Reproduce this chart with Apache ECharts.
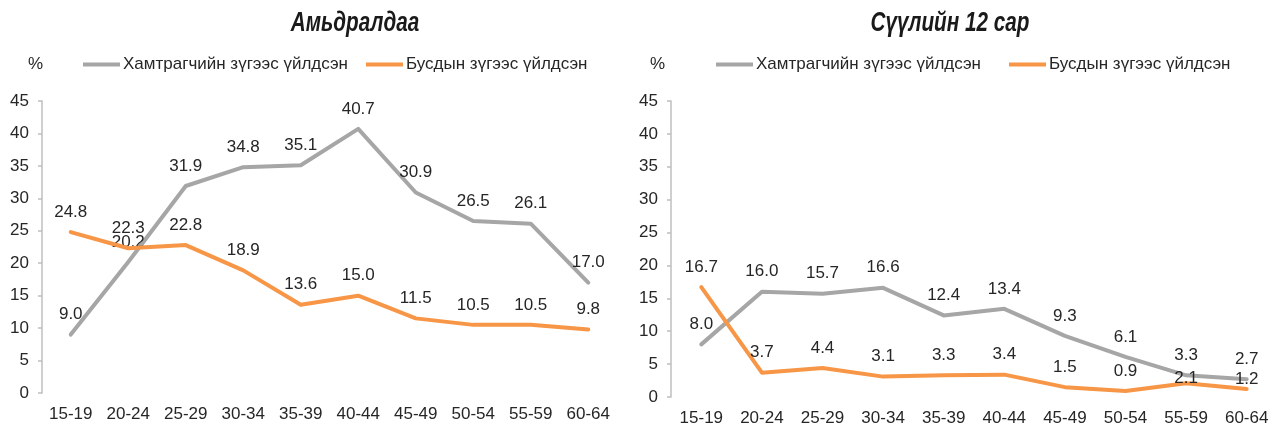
<!DOCTYPE html>
<html>
<head>
<meta charset="utf-8">
<script src="https://cdn.jsdelivr.net/npm/echarts@6/dist/echarts.min.js"></script>
<style>
  html, body { margin: 0; padding: 0; background: #ffffff; }
  #chart { width: 1279px; height: 427px; }
</style>
</head>
<body>
<div id="chart"></div>
<script>
// Age groups shared by both panels
const ageGroups = ['15-19', '20-24', '25-29', '30-34', '35-39', '40-44', '45-49', '50-54', '55-59', '60-64'];

// Panel titles and series names
const panelTitles = ['Амьдралдаа', 'Сүүлийн 12 сар'];
const seriesNames = ['Хамтрагчийн зүгээс үйлдсэн', 'Бусдын зүгээс үйлдсэн'];

// Lifetime, %
const lifetimePartner = [9.0, 20.2, 31.9, 34.8, 35.1, 40.7, 30.9, 26.5, 26.1, 17.0];
const lifetimeOther   = [24.8, 22.3, 22.8, 18.9, 13.6, 15.0, 11.5, 10.5, 10.5, 9.8];

// Last 12 months, %
const recentPartner = [8.0, 16.0, 15.7, 16.6, 12.4, 13.4, 9.3, 6.1, 3.3, 2.7];
const recentOther   = [16.7, 3.7, 4.4, 3.1, 3.3, 3.4, 1.5, 0.9, 2.1, 1.2];

// Y axis ticks
const yMin = 0, yMax = 45, yStep = 5;

const GREY = '#A6A6A6';
const ORANGE = '#F79646';
const TEXT = '#262626';
const FONT = '"Liberation Sans", Arial, sans-serif';
const FS = 17;

const chart = echarts.init(document.getElementById('chart'), null, { renderer: 'canvas' });

const grids = [
  { left: 42, width: 575, top: 101, height: 292 },
  { left: 671, width: 606, top: 101, height: 297 }
];

function xAxisFor(i) {
  return {
    type: 'category', gridIndex: i, data: ageGroups, boundaryGap: true,
    axisLine: { show: false }, axisTick: { show: false },
    axisLabel: { color: TEXT, fontSize: FS, fontFamily: FONT, margin: 13, interval: 0 }
  };
}
function yAxisFor(i) {
  return {
    type: 'value', gridIndex: i, min: yMin, max: yMax, interval: yStep,
    axisLine: { show: true, lineStyle: { color: '#BFBFBF', width: 1.5 } },
    axisTick: { show: true, inside: false, length: 4, lineStyle: { color: '#BFBFBF', width: 1.5 } },
    splitLine: { show: false },
    axisLabel: { color: TEXT, fontSize: FS, fontFamily: FONT, margin: 13 }
  };
}

// Label placement tweaks where two lines crowd each other
const labelShift = { '1-1-8': -4, '1-1-9': 1 };

function lineSeries(name, values, color, gi, si) {
  return {
    name: name, type: 'line', xAxisIndex: gi, yAxisIndex: gi,
    data: values.map((v, k) => {
      const key = gi + '-' + si + '-' + k;
      if (key in labelShift) return { value: v, label: { distance: labelShift[key] } };
      return v;
    }),
    symbol: 'circle', symbolSize: 1, showSymbol: true,
    lineStyle: { color: color, width: 4, cap: 'round', join: 'round' },
    itemStyle: { color: color },
    label: {
      show: true, position: 'top', distance: 11,
      color: TEXT, fontSize: FS, fontFamily: FONT,
      formatter: p => Number(p.value).toFixed(1)
    },
    emphasis: { disabled: true },
    animation: false, z: si === 0 ? 2 : 3
  };
}

// Condensed bold-italic panel headings
const TITLE_FONT = 'italic bold 28px "Liberation Sans", Arial, sans-serif';
function heading(text, cx) {
  return {
    type: 'text', x: cx, y: 23, scaleX: 0.74, silent: true,
    style: { text: text, font: TITLE_FONT, fill: '#1a1a1a', textAlign: 'center', textVerticalAlign: 'middle' }
  };
}

const option = {
  backgroundColor: '#ffffff',
  animation: false,
  graphic: [heading(panelTitles[0], 355), heading(panelTitles[1], 950)],
  title: [
    { text: '%', left: 28, top: 56, padding: 0, textStyle: { fontFamily: FONT, fontSize: FS, fontWeight: 'normal', color: TEXT } },
    { text: '%', left: 650, top: 56, padding: 0, textStyle: { fontFamily: FONT, fontSize: FS, fontWeight: 'normal', color: TEXT } }
  ],
  legend: [
    { left: 83, top: 56, padding: 0, itemWidth: 37, itemHeight: 4, itemGap: 18, data: seriesNames,
      icon: 'rect', textStyle: { fontFamily: FONT, fontSize: FS, color: TEXT, padding: [0, 0, 0, -2] } },
    { left: 716, top: 56, padding: 0, itemWidth: 37, itemHeight: 4, itemGap: 28, data: seriesNames,
      icon: 'rect', textStyle: { fontFamily: FONT, fontSize: FS, color: TEXT, padding: [0, 0, 0, -2] } }
  ],
  grid: grids,
  xAxis: [xAxisFor(0), xAxisFor(1)],
  yAxis: [yAxisFor(0), yAxisFor(1)],
  series: [
    lineSeries(seriesNames[0], lifetimePartner, GREY, 0, 0),
    lineSeries(seriesNames[1], lifetimeOther, ORANGE, 0, 1),
    lineSeries(seriesNames[0], recentPartner, GREY, 1, 0),
    lineSeries(seriesNames[1], recentOther, ORANGE, 1, 1)
  ]
};

chart.setOption(option);
</script>
</body>
</html>
